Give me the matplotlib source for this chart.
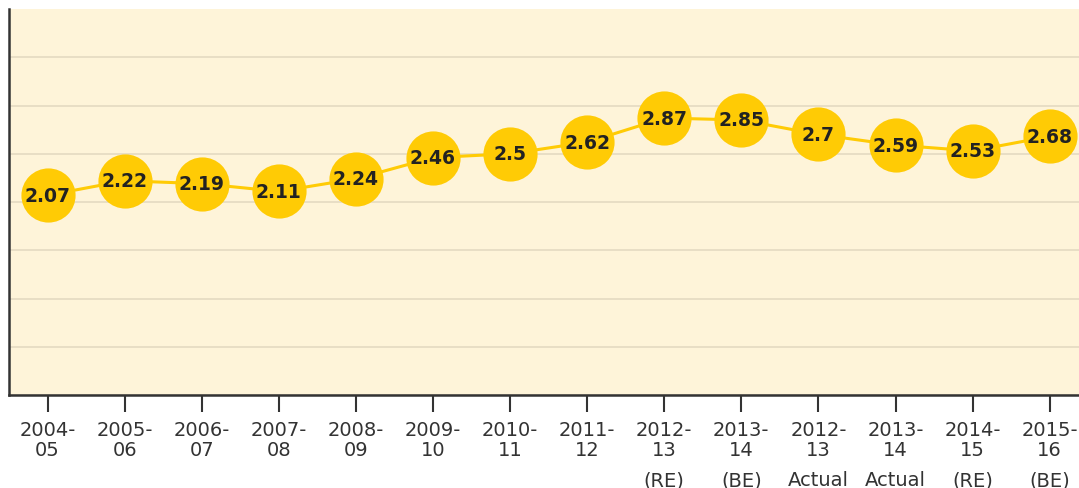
import matplotlib
matplotlib.use("Agg")
import matplotlib.pyplot as plt

categories = ["2004-\n05", "2005-\n06", "2006-\n07", "2007-\n08", "2008-\n09",
              "2009-\n10", "2010-\n11", "2011-\n12", "2012-\n13", "2013-\n14",
              "2012-\n13", "2013-\n14", "2014-\n15", "2015-\n16"]
suffixes = ["", "", "", "", "", "", "", "", "(RE)", "(BE)", "Actual", "Actual", "(RE)", "(BE)"]
values = [2.07, 2.22, 2.19, 2.11, 2.24, 2.46, 2.5, 2.62, 2.87, 2.85, 2.7, 2.59, 2.53, 2.68]
labels = ["2.07", "2.22", "2.19", "2.11", "2.24", "2.46", "2.5", "2.62", "2.87", "2.85",
          "2.7", "2.59", "2.53", "2.68"]
yticks = [0, 0.5, 1.0, 1.5, 2.0, 2.5, 3.0, 3.5]

W, H = 1079, 489
fig = plt.figure(figsize=(W / 100, H / 100), dpi=100)
fig.patch.set_facecolor("white")
ax = fig.add_axes([9 / W, (H - 396) / H, (W - 9) / W, (396 - 10) / H])
ax.set_facecolor("#FEF4D9")

x = list(range(len(values)))
ax.plot(x, values, color="#FFCB05", lw=2.2, zorder=2)
ax.plot(x, values, "o", ms=39, color="#FFCB05", mec="none", zorder=3)
for xi, v, lab in zip(x, values, labels):
    ax.text(xi, v, lab, ha="center", va="center", fontsize=13.5, fontweight="bold",
            color="#222222", zorder=4)

ax.set_xlim(-0.5, 13.38)
ax.set_ylim(0, 4)
ax.set_yticks(yticks)
ax.yaxis.grid(True, color="#E6DCC3", lw=1.3)
ax.set_axisbelow(True)
ax.tick_params(axis="y", left=False, labelleft=False)
ax.set_xticks(x)
ax.set_xticklabels(categories, fontsize=14, color="#333333", linespacing=1.05)
ax.tick_params(axis="x", length=12, width=1.5, color="#333333", direction="out", pad=6)

for xi, s in zip(x, suffixes):
    if s:
        ax.annotate(s, xy=(xi, 0), xycoords=("data", "axes fraction"),
                    xytext=(0, -65), textcoords="offset points",
                    ha="center", va="baseline", fontsize=14, color="#333333",
                    annotation_clip=False)

for s in ["top", "right"]:
    ax.spines[s].set_visible(False)
for s in ["left", "bottom"]:
    ax.spines[s].set_color("#333333")
    ax.spines[s].set_linewidth(1.8)

fig.savefig("out.png", dpi=100)
